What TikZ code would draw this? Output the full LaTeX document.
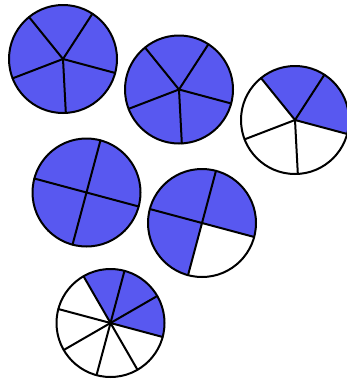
\documentclass[tikz,border=0pt]{standalone}
\usepackage{tikz}
\definecolor{pieblue}{RGB}{88,88,240}
% fraction circle: centre x, centre y, parts, filled parts, first spoke angle
\newcommand{\fracpie}[5]{%
  \begin{scope}[shift={(#1,#2)}]
    \foreach \k in {1,...,#4}
      \fill[part] (0,0) -- ({#5+(\k-1)*360/#3}:54)
        arc[start angle={#5+(\k-1)*360/#3}, delta angle={360/#3}, radius=54] -- cycle;
    \foreach \k in {1,...,#3}
      \draw[rim] (0,0) -- ({#5+\k*360/#3}:54);
    \draw[rim] (0,0) circle[radius=54];
  \end{scope}}

\begin{document}
\begin{tikzpicture}[
  x=1pt, y=1pt,
  rim/.style={draw=black,line width=2pt,line cap=round,line join=round},
  part/.style={fill=pieblue}
]
\useasboundingbox (0,-380) rectangle (347,0);
% fifths
\fracpie{63}{-59}{5}{5}{-15}
\fracpie{179}{-89.5}{5}{5}{-15}
\fracpie{295}{-120}{5}{2}{-15}
% quarters
\fracpie{86.5}{-192.5}{4}{4}{-15}
\fracpie{202}{-223}{4}{3}{-15}
% eighths
\fracpie{110.5}{-323}{8}{3}{-15}
\end{tikzpicture}
\end{document}
